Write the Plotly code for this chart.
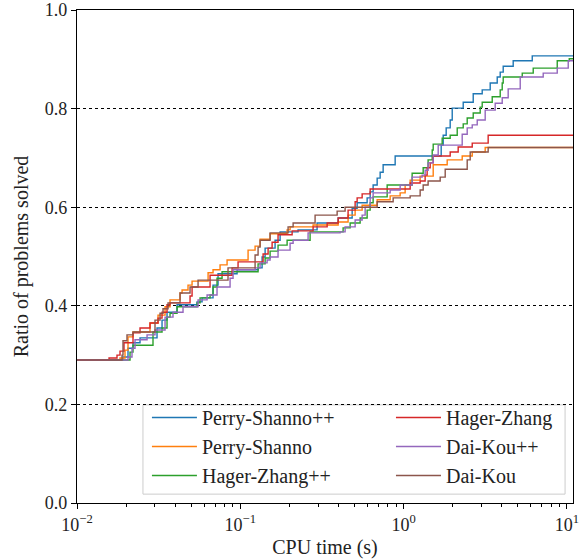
import plotly.graph_objects as go

# ---- data (CPU time in seconds, ratio of problems solved), step functions ----
ps_pp_t = [0.01,0.01913,0.02053,0.02203,0.02432,0.03091,0.03317,0.03559,0.04099,0.05436,
           0.05833,0.0681,0.07306,0.09557,0.1285,0.136,0.1419,0.1633,0.1753,0.2258,
           0.2953,0.3974,0.4841,0.5194,0.5981,0.624,0.6509,0.6888,0.7185,0.7494,
           0.8878,1.699,1.748,1.823,1.929,1.985,2.318,2.669,3.03,3.391,
           3.744,3.905,4.074,4.69,6.136]
ps_pp_r = [0.290,0.296,0.314,0.325,0.335,0.355,0.371,0.387,0.402,0.408,
           0.416,0.442,0.465,0.473,0.477,0.499,0.517,0.533,0.550,0.554,
           0.568,0.578,0.598,0.609,0.619,0.631,0.645,0.659,0.671,0.686,
           0.704,0.726,0.746,0.761,0.777,0.801,0.813,0.830,0.838,0.852,
           0.864,0.874,0.886,0.897,0.907]

ps_t = [0.01,0.01834,0.01968,0.02053,0.02203,0.028,0.03135,0.03461,0.03713,0.04276,
        0.044,0.04785,0.05066,0.0635,0.0681,0.07518,0.083,0.1116,0.1232,0.1322,
        0.1522,0.1935,0.2018,0.2791,0.3974,0.4572,0.5049,0.5574,0.6888,0.8274,
        0.9527,1.022,1.097,1.263,1.518,1.849,2.285,2.632,3.16]
ps_r = [0.290,0.294,0.310,0.337,0.347,0.365,0.381,0.398,0.412,0.426,
        0.432,0.442,0.450,0.467,0.473,0.483,0.493,0.513,0.521,0.535,
        0.546,0.554,0.560,0.564,0.570,0.584,0.594,0.604,0.615,0.623,
        0.629,0.645,0.655,0.663,0.686,0.696,0.704,0.712,0.721]

hz_pp_t = [0.01,0.02112,0.02203,0.0292,0.03317,0.03559,0.03713,0.04099,0.05436,0.0567,
           0.06529,0.0681,0.07203,0.07733,0.1285,0.1419,0.1522,0.1703,0.1935,0.2676,
           0.4262,0.4706,0.5419,0.5981,0.624,0.6509,0.7932,1.128,1.318,1.413,
           1.497,1.518,1.723,1.929,2.13,2.318,2.452,2.669,2.945,3.03,
           3.489,3.905,4.017,4.074,5.328,6.22,8.728,10.34]
hz_pp_r = [0.290,0.306,0.320,0.347,0.355,0.377,0.385,0.398,0.406,0.416,
           0.422,0.438,0.456,0.469,0.485,0.497,0.511,0.523,0.533,0.550,
           0.558,0.568,0.578,0.594,0.609,0.621,0.645,0.669,0.680,0.696,
           0.716,0.728,0.740,0.746,0.761,0.769,0.781,0.791,0.803,0.813,
           0.824,0.838,0.852,0.864,0.872,0.882,0.897,0.901]

hz_t = [0.01,0.01571,0.01758,0.01834,0.0194,0.02203,0.02432,0.028,0.03135,0.03317,
        0.03559,0.03713,0.04924,0.05066,0.06529,0.08906,0.0969,0.1379,0.148,0.1566,
        0.1703,0.2077,0.2791,0.3403,0.3974,0.4572,0.5049,0.5194,0.5574,0.624,
        1.097,1.263,1.355,1.394,1.455,1.518,1.929,2.159,2.632,3.295]
hz_r = [0.290,0.294,0.300,0.308,0.325,0.345,0.355,0.365,0.375,0.387,
        0.402,0.406,0.420,0.438,0.462,0.477,0.489,0.505,0.517,0.529,
        0.544,0.552,0.560,0.568,0.578,0.594,0.611,0.619,0.627,0.637,
        0.649,0.653,0.665,0.680,0.690,0.704,0.712,0.722,0.730,0.746]

dk_pp_t = [0.01,0.02053,0.02172,0.02266,0.02685,0.03004,0.03461,0.03872,0.0446,0.05513,
           0.0626,0.07203,0.08657,0.09032,0.1232,0.1322,0.1459,0.1522,0.1703,0.2018,
           0.2106,0.2601,0.4086,0.4384,0.5049,0.5574,0.5815,0.624,0.6509,0.8274,
           0.9527,1.128,1.299,1.355,1.413,1.518,1.629,2.285,2.452,2.632,
           2.824,3.16,3.639,4.017,4.37,5.178,7.161,8.728,10.19]
dk_pp_r = [0.290,0.296,0.314,0.331,0.341,0.351,0.377,0.387,0.398,0.412,
           0.422,0.438,0.456,0.473,0.477,0.487,0.493,0.499,0.513,0.527,
           0.533,0.548,0.550,0.560,0.574,0.584,0.600,0.619,0.629,0.635,
           0.645,0.661,0.665,0.675,0.690,0.706,0.726,0.748,0.761,0.767,
           0.777,0.797,0.811,0.822,0.840,0.864,0.872,0.882,0.897]

dk_t = [0.01,0.01887,0.01913,0.02024,0.02203,0.03004,0.03225,0.03364,0.0361,0.04276,
        0.04924,0.05513,0.0841,0.1232,0.1285,0.1322,0.1522,0.1962,0.2106,0.2871,
        0.3918,0.4384,0.6888,0.8631,1.097,1.263,1.318,1.413,1.675,1.798,
        2.452,2.558,3.295]
dk_r = [0.290,0.300,0.329,0.341,0.347,0.371,0.385,0.394,0.406,0.426,
        0.438,0.452,0.477,0.503,0.519,0.533,0.548,0.560,0.568,0.584,
        0.592,0.600,0.611,0.619,0.623,0.635,0.645,0.653,0.661,0.677,
        0.696,0.712,0.721]

series_names = ["Perry-Shanno++", "Perry-Shanno", "Hager-Zhang++",
                "Hager-Zhang", "Dai-Kou++", "Dai-Kou"]
series_t = [ps_pp_t, ps_t, hz_pp_t, hz_t, dk_pp_t, dk_t]
series_r = [ps_pp_r, ps_r, hz_pp_r, hz_r, dk_pp_r, dk_r]
colors = ["#1f77b4", "#ff7f0e", "#2ca02c", "#d62728", "#9467bd", "#8c564b"]

x_max = 10.9
x_tickvals = [0.01, 0.1, 1, 10]
x_ticktext = ["10<sup>\u22122</sup>", "10<sup>\u22121</sup>", "10<sup>0</sup>", "10<sup>1</sup>"]
minor_vals = [m * 10 ** e for e in (-2, -1, 0) for m in range(2, 10)]
y_tickvals = [0.0, 0.2, 0.4, 0.6, 0.8, 1.0]

FONT = "Liberation Serif"

fig = go.Figure()
for i, (name, t, r) in enumerate(zip(series_names, series_t, series_r)):
    fig.add_trace(go.Scatter(
        x=list(t) + [x_max * 1.2], y=list(r) + [r[-1]],
        mode="lines", line=dict(shape="hv", color=colors[i], width=1.4),
        name=name, legend="legend" if i < 3 else "legend2"))

leg_common = dict(bgcolor="rgba(0,0,0,0)", borderwidth=0, yanchor="top",
                  xanchor="left", traceorder="normal", itemwidth=45,
                  font=dict(family=FONT, size=20, color="#222"))

fig.update_layout(
    width=585, height=559,
    margin=dict(l=77, r=12, t=10, b=56),
    plot_bgcolor="white", paper_bgcolor="white",
    font=dict(family=FONT, size=18, color="#222"),
    showlegend=True,
    legend=dict(x=0.141, y=0.213, **leg_common),
    legend2=dict(x=0.633, y=0.213, **leg_common),
    shapes=[dict(type="rect", xref="paper", yref="paper",
                 x0=0.133, x1=0.984, y0=0.018, y1=0.199,
                 line=dict(color="#cccccc", width=1),
                 fillcolor="white", layer="below")],
)
fig.update_xaxes(
    type="log", range=[-2, 1.0374], automargin=False,
    tickvals=x_tickvals, ticktext=x_ticktext,
    ticks="outside", ticklen=5, tickwidth=1, tickcolor="black",
    minor=dict(tickvals=minor_vals, ticks="outside", ticklen=3, tickcolor="black", showgrid=False),
    showline=True, linecolor="black", linewidth=1.2, mirror=True,
    showgrid=False, zeroline=False,
    title=dict(text="CPU time (s)", font=dict(family=FONT, size=20), standoff=6),
    tickfont=dict(family=FONT, size=18),
)
fig.update_yaxes(
    range=[0, 1.0], tickvals=y_tickvals, tickformat=".1f", automargin=False,
    ticks="outside", ticklen=5, tickwidth=1, tickcolor="black",
    showline=True, linecolor="black", linewidth=1.2, mirror=True,
    showgrid=True, gridcolor="black", griddash="dot", gridwidth=0.8,
    zeroline=False,
    title=dict(text="Ratio of problems solved", font=dict(family=FONT, size=20), standoff=10),
    tickfont=dict(family=FONT, size=18),
)

fig.write_html("out.html", config={"displayModeBar": False},
               post_script="document.body.style.margin='0';")
